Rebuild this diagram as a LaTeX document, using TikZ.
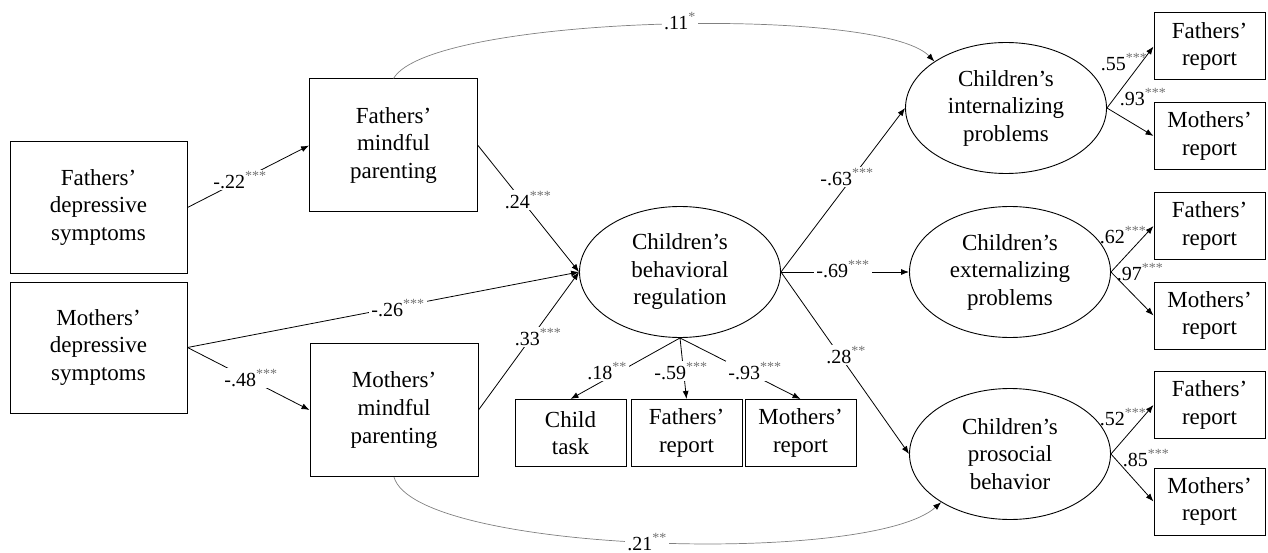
\documentclass[tikz,border=0pt]{standalone}
\usepackage{fontspec}
\setmainfont{Liberation Serif}
\usepackage{tikz}
\usetikzlibrary{arrows.meta,shapes.geometric}
\newcommand{\signif}[1]{\textsuperscript{\color{black!55}#1}}
\tikzset{%
	% Style of an observed variable
	Box/.style={rectangle,draw=black,line width=1pt,align=center,inner sep=0,font=\fontsize{23}{27.5}\selectfont},
	BigBox/.style={Box,minimum width=177pt,minimum height=131pt},
	MidBox/.style={Box,minimum width=168pt,minimum height=133pt},
	SmallBox/.style={Box,minimum width=111pt,minimum height=67pt},
	% Style of a latent variable
	Latent/.style={ellipse,draw=black,line width=0.9pt,align=center,inner sep=0,minimum width=201pt,minimum height=131pt,font=\fontsize{23}{27.5}\selectfont},
	% Style of the path label
	Coef/.style={fill=white,inner sep=2pt,font=\fontsize{20}{24}\selectfont},
	CoefFree/.style={inner sep=0,font=\fontsize{20}{24}\selectfont},
	% Style of the paths
	Path/.style={->,line width=0.8pt},
	Covar/.style={-{Latex[length=8pt,width=6pt,black]},line width=0.7pt,draw=black!50},
}
\begin{document}
\begin{tikzpicture}[x=1pt,y=-1pt,>={Latex[length=8pt,width=6pt]}]
\useasboundingbox (0,0) rectangle (1268,553);

%~~~~~~~~~~~~~~~~~~~~~~~~~~~~~~~~~~~~~~~~~~~~~~~~~~
% Set Nodes
%~~~~~~~~~~~~~~~~~~~~~~~~~~~~~~~~~~~~~~~~~~~~~~~~~~
\node[BigBox] (FDS) at (98.5, 207.5) {Fathers'\\depressive\\symptoms};
\node[BigBox] (MDS) at (98.5, 347.5) {Mothers'\\depressive\\symptoms};

\node[MidBox] (FMP) at (393.5, 145.5) {Fathers'\\mindful\\parenting};
\node[MidBox] (MMP) at (394, 410) {Mothers'\\mindful\\parenting};

\node[Latent] (CBR) at (680, 272) {Children's\\behavioral\\regulation};
\node[SmallBox] (CBR1) at (570.5, 433) {Child\\task};
\node[SmallBox] (CBR2) at (686.5, 433) {Fathers'\\report};
\node[SmallBox] (CBR3) at (800.5, 433) {Mothers'\\report};

\node[Latent] (INT) at (1006, 108) {Children's\\internalizing\\problems};
\node[Latent] (EXT) at (1010, 272) {Children's\\externalizing\\problems};
\node[Latent] (PRO) at (1010, 454) {Children's\\prosocial\\behavior};

\node[SmallBox] (INT1) at (1209.5, 46.5) {Fathers'\\report};
\node[SmallBox] (INT2) at (1209.5, 136) {Mothers'\\report};
\node[SmallBox] (EXT1) at (1209.5, 226) {Fathers'\\report};
\node[SmallBox] (EXT2) at (1209.5, 315.5) {Mothers'\\report};
\node[SmallBox] (PRO1) at (1209.5, 405) {Fathers'\\report};
\node[SmallBox] (PRO2) at (1209.5, 501.5) {Mothers'\\report};

%~~~~~~~~~~~~~~~~~~~~~~~~~~~~~~~~~~~~~~~~~~~~~~~~~~
% Set Paths
%~~~~~~~~~~~~~~~~~~~~~~~~~~~~~~~~~~~~~~~~~~~~~~~~~~
%Depressive symptoms to mindful parenting
\draw[Path] (FDS.east) -- (FMP.west);
\node[Coef] at (240, 180) {-.22\signif{***}};
\draw[Path] (MDS.east) -- (MMP.west);
\node[Coef] at (251, 378) {-.48\signif{***}};

%Paths into behavioral regulation
\draw[Path] (MDS.east) -- (CBR.west);
\node[Coef] at (398, 308) {-.26\signif{***}};
\draw[Path] (FMP.east) -- (CBR.west);
\node[Coef] at (528, 200) {.24\signif{***}};
\draw[Path] (MMP.east) -- (CBR.west);
\node[Coef] at (538, 337) {.33\signif{***}};

%Indicators of behavioral regulation
\draw[Path] (CBR.south) -- (CBR1.north);
\node[Coef] at (607, 371) {.18\signif{**}};
\draw[Path] (CBR.south) -- (CBR2.north);
\node[Coef] at (681, 371) {-.59\signif{***}};
\draw[Path] (CBR.south) -- (CBR3.north);
\node[Coef] at (755, 371) {-.93\signif{***}};

%Behavioral regulation to outcomes
\draw[Path] (CBR.east) -- (INT.west);
\node[Coef] at (847, 177) {-.63\signif{***}};
\draw[Path] (CBR.east) -- (EXT.west);
\node[Coef] at (843, 269) {-.69\signif{***}};
\draw[Path] (CBR.east) -- (PRO.west);
\node[Coef] at (846, 355) {.28\signif{**}};

%Indicators of the outcomes
\draw[Path] (INT.east) -- (INT1.west);
\node[CoefFree] at (1124, 62) {.55\signif{***}};
\draw[Path] (INT.east) -- (INT2.west);
\node[CoefFree] at (1143, 97) {.93\signif{***}};
\draw[Path] (EXT.east) -- (EXT1.west);
\node[CoefFree] at (1123, 235) {.62\signif{***}};
\draw[Path] (EXT.east) -- (EXT2.west);
\node[CoefFree] at (1140, 272) {.97\signif{***}};
\draw[Path] (PRO.east) -- (PRO1.west);
\node[CoefFree] at (1123, 417) {.52\signif{***}};
\draw[Path] (PRO.east) -- (PRO2.west);
\node[CoefFree] at (1146, 458) {.85\signif{***}};

%Direct paths from mindful parenting
\draw[Covar] (FMP.north) .. controls (430, 15) and (880, 5) .. (INT.147);
\node[Coef] at (680, 21) {.11\signif{*}};
\draw[Covar] (MMP.south) .. controls (415, 553) and (870, 566) .. (PRO.215);
\node[Coef,inner ysep=1pt] at (647, 542) {.21\signif{**}};

\end{tikzpicture}
\end{document}
